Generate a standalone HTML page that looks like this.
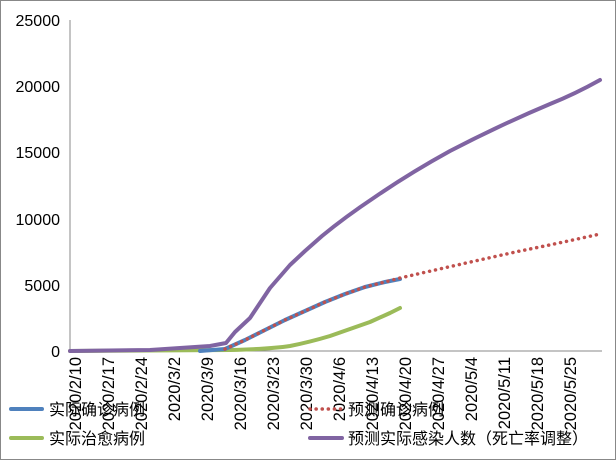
<!DOCTYPE html>
<html><head><meta charset="utf-8"><style>
html,body{margin:0;padding:0;background:#fff;}
svg{display:block;font-family:"Liberation Sans","Noto Sans CJK SC",sans-serif;}
</style></head><body>
<svg width="616" height="460" viewBox="0 0 616 460">
<rect x="0.5" y="0.5" width="615" height="459" fill="#fff" stroke="#888"/>
<g font-size="16" fill="#000" text-anchor="end">
<text x="60" y="26">25000</text>
<text x="60" y="92">20000</text>
<text x="60" y="158">15000</text>
<text x="60" y="225">10000</text>
<text x="60" y="291">5000</text>
<text x="60" y="357">0</text>
</g>
<line x1="70" y1="20" x2="70" y2="351" stroke="#888"/>
<line x1="70" y1="351" x2="602" y2="351" stroke="#888"/>
<g font-size="16.5" fill="#000" text-anchor="end">
<text transform="translate(81,357) rotate(-90)">2020/2/10</text>
<text transform="translate(114,357) rotate(-90)">2020/2/17</text>
<text transform="translate(147,357) rotate(-90)">2020/2/24</text>
<text transform="translate(180,357) rotate(-90)">2020/3/2</text>
<text transform="translate(213,357) rotate(-90)">2020/3/9</text>
<text transform="translate(246,357) rotate(-90)">2020/3/16</text>
<text transform="translate(279,357) rotate(-90)">2020/3/23</text>
<text transform="translate(312,357) rotate(-90)">2020/3/30</text>
<text transform="translate(345,357) rotate(-90)">2020/4/6</text>
<text transform="translate(378,357) rotate(-90)">2020/4/13</text>
<text transform="translate(411,357) rotate(-90)">2020/4/20</text>
<text transform="translate(444,357) rotate(-90)">2020/4/27</text>
<text transform="translate(477,357) rotate(-90)">2020/5/4</text>
<text transform="translate(510,357) rotate(-90)">2020/5/11</text>
<text transform="translate(543,357) rotate(-90)">2020/5/18</text>
<text transform="translate(576,357) rotate(-90)">2020/5/25</text>
</g>
<g fill="none" stroke-linecap="round" stroke-linejoin="round">
<path d="M70,351 L230,350 Q270,349 290,346 Q310,342 330,336 L350,329 L370,322 L390,313 L400,308" stroke="#9bbb59" stroke-width="4"/>
<path d="M200,351 L225,349 L245,340 L265,330 L285,320 L305,311 L325,302 L345,294 L365,287 L385,282 L400,279" stroke="#4f81bd" stroke-width="4"/>
<path d="M70,351 L150,350 L180,348 L210,346 L226,343 L235,332 L250,318 L262,300 L270,288 L290,265 L305,251 L322,236 Q345,217 375,197 Q410,173 450,151 Q500,125 550,104 Q575,94 600,80" stroke="#8064a2" stroke-width="4"/>
<path d="M225,349 L245,340 L265,330 L285,320 L305,311 L325,302 L345,294 L365,287 L385,282 L400,278 Q470,262 520,251 Q560,243 600,234" stroke="#c0504d" stroke-width="3.5" stroke-dasharray="0.1 6"/>
</g>
<g font-size="16" fill="#000">
<line x1="11" y1="409" x2="42" y2="409" stroke="#4f81bd" stroke-width="4" stroke-linecap="round"/>
<text x="49" y="415">实际确诊病例</text>
<line x1="11" y1="438" x2="42" y2="438" stroke="#9bbb59" stroke-width="4" stroke-linecap="round"/>
<text x="49" y="444">实际治愈病例</text>
<line x1="310" y1="409" x2="342" y2="409" stroke="#c0504d" stroke-width="3.5" stroke-linecap="round" stroke-dasharray="0.1 6"/>
<text x="348" y="415">预测确诊病例</text>
<line x1="310" y1="438" x2="342" y2="438" stroke="#8064a2" stroke-width="4" stroke-linecap="round"/>
<text x="348" y="444">预测实际感染人数（死亡率调整）</text>
</g>
</svg>
</body></html>
